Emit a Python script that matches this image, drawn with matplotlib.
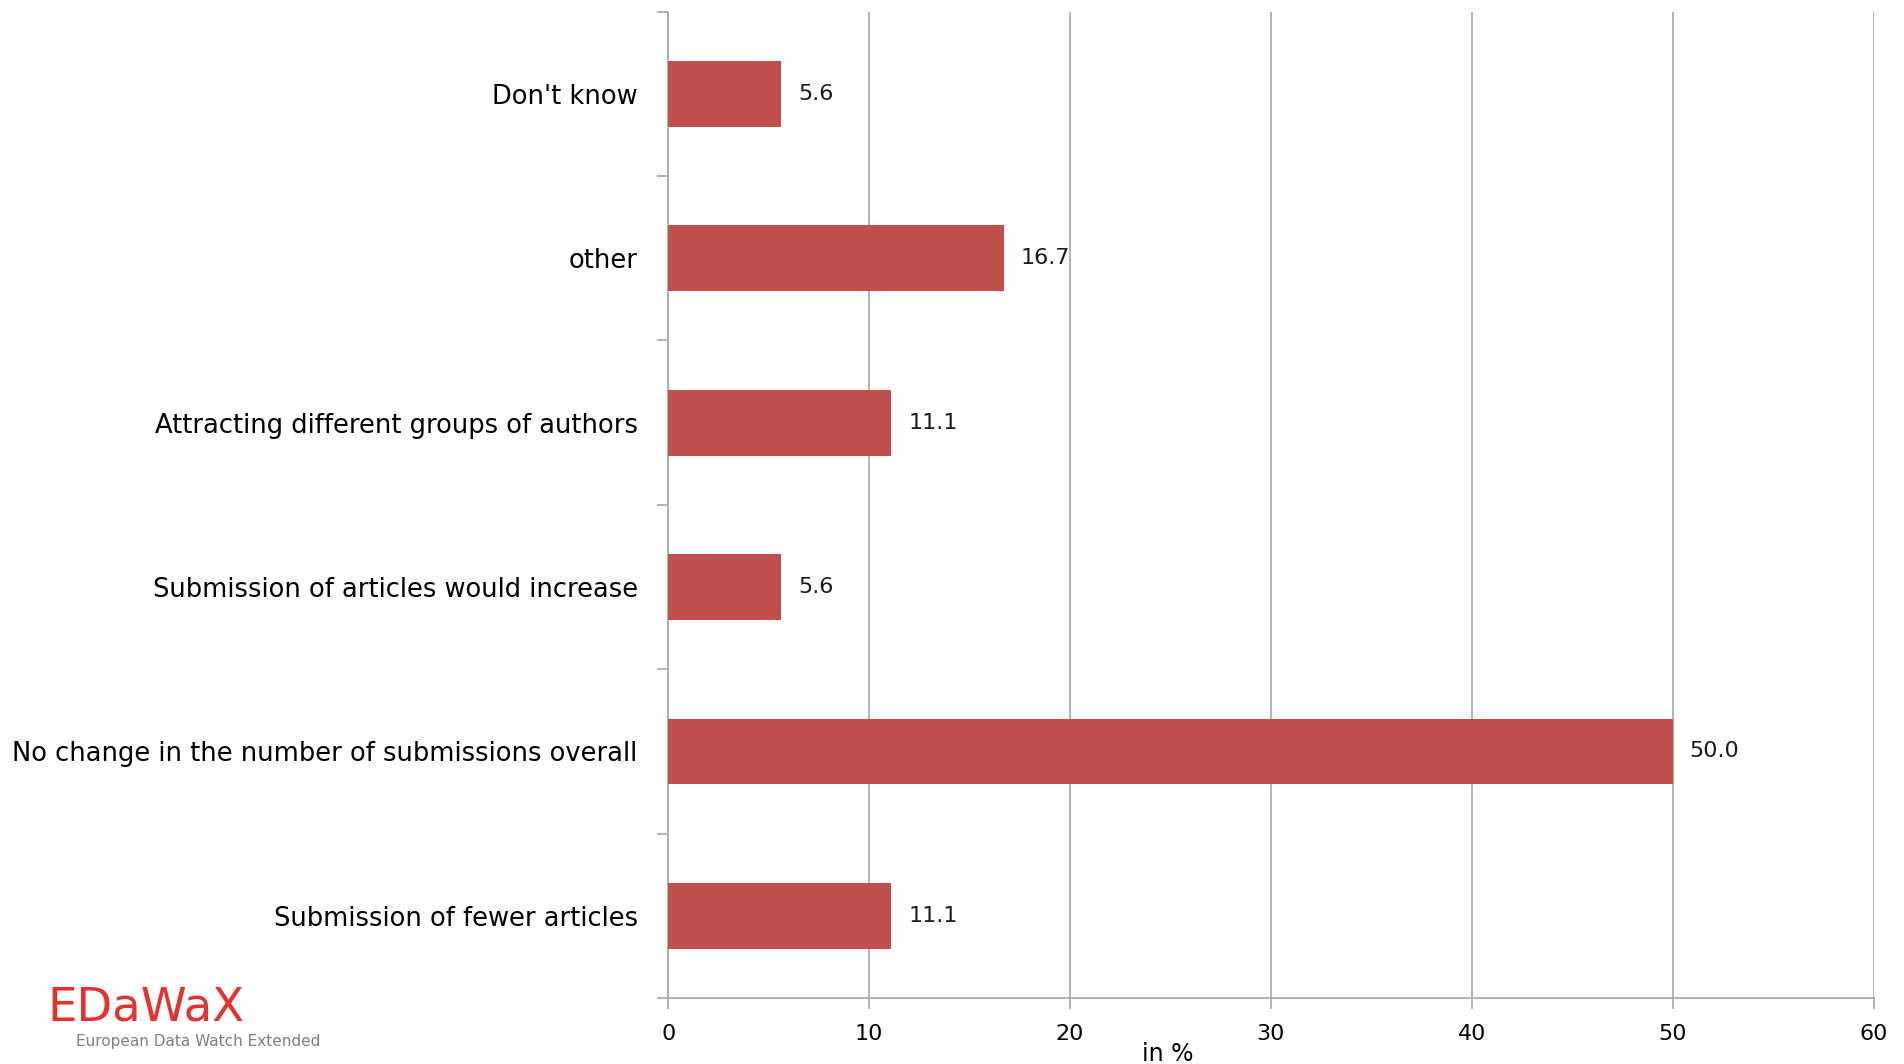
import matplotlib.pyplot as plt
import numpy as np

# data, bottom to top as in the chart
categories = ['Submission of fewer articles',
              'No change in the number of submissions overall',
              'Submission of articles would increase',
              'Attracting different groups of authors',
              'other',
              "Don't know"]
values = [11.1, 50.0, 5.6, 11.1, 16.7, 5.6]
xticks = [0, 10, 20, 30, 40, 50, 60]

bar_color = '#C0504D'
grid_color = '#A6A6A6'

fig = plt.figure(figsize=(19.04, 10.64), dpi=100)
ax = fig.add_axes([0.351, 0.062, 0.633, 0.927])

y = np.arange(len(categories))
ax.barh(y, values, height=0.4, color=bar_color, zorder=3)

for yi, v in zip(y, values):
    ax.text(v + 0.85, yi, '%.1f' % v, va='center', ha='left', fontsize=16, color='#1a1a1a')

ax.set_xlim(0, 60)
ax.set_ylim(-0.5, len(categories) - 0.5)
ax.set_xticks(xticks)
ax.set_xticklabels([str(t) for t in xticks], fontsize=16)
ax.set_yticks(y)
ax.set_yticklabels(categories, fontsize=18.5)
ax.tick_params(axis='y', length=0, pad=22)
ax.set_yticks(np.arange(-0.5, len(categories), 1), minor=True)
ax.tick_params(axis='y', which='minor', length=8, color=grid_color, width=1.2)
ax.tick_params(axis='x', length=8, color=grid_color, width=1.2, pad=11)

ax.grid(axis='x', color=grid_color, linewidth=1.2, zorder=0)
for s in ['top', 'right']:
    ax.spines[s].set_visible(False)
for s in ['left', 'bottom']:
    ax.spines[s].set_color(grid_color)
    ax.spines[s].set_linewidth(1.2)

# axis title sits low, under the 20-30 gap
fig.text(1168 / 1904, 1 - 1054 / 1064, 'in %', fontsize=17, ha='center', va='center')

# logo
fig.text(0.025, 0.053, 'EDaWaX', color='#E8302F', fontsize=33.5, ha='left', va='center')
fig.text(0.040, 0.021, 'European Data Watch Extended', color='#7F7F7F', fontsize=11, ha='left', va='center')

plt.savefig('out.png', dpi=100)
